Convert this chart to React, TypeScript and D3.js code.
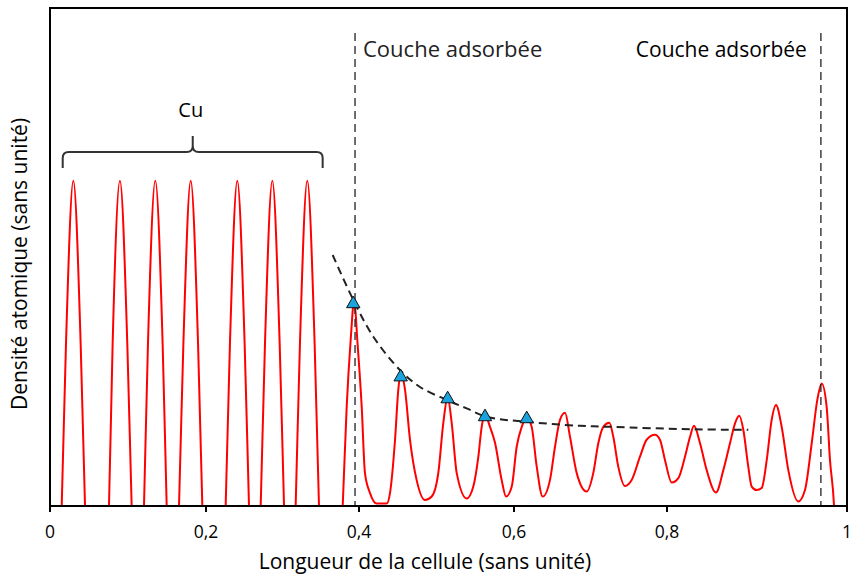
import React from "react";
import * as d3 from "d3";

// ---------- data ----------
const xTicks = [0, 0.2, 0.4, 0.6, 0.8, 1];
const xTickLabels = ["0", "0,2", "0,4", "0,6", "0,8", "1"];

// Red density profile (x, y) (y in arbitrary units, 0-100)
const densityX = [
  0.005, 0.015, 0.0205, 0.0299, 0.0393, 0.0449,
  0.0603, 0.0756, 0.0803, 0.0897, 0.0991, 0.1047,
  0.1126, 0.1205, 0.1256, 0.135, 0.1444, 0.1496,
  0.1575, 0.1654, 0.171, 0.1804, 0.1898, 0.1953,
  0.2105, 0.2257, 0.2313, 0.2409, 0.2505, 0.2562,
  0.2638, 0.2715, 0.2771, 0.2867, 0.2963, 0.302,
  0.3096, 0.3172, 0.3228, 0.3324, 0.342, 0.3477,
  0.3634, 0.3787, 0.3839, 0.3891, 0.3938, 0.3978, 0.4035, 0.4077, 0.4142, 0.4228,
  0.4357, 0.44, 0.4465, 0.4507, 0.4542, 0.4594, 0.4658, 0.4744, 0.4852,
  0.4938, 0.5023, 0.5088, 0.5144, 0.5196, 0.5261, 0.539,
  0.5475, 0.554, 0.5583, 0.5626, 0.569, 0.5755, 0.5841, 0.5897,
  0.5971, 0.6035, 0.6101, 0.6166, 0.6231, 0.6297, 0.6375,
  0.647, 0.6536, 0.6601, 0.6667, 0.6732, 0.682, 0.695,
  0.7036, 0.7102, 0.7167, 0.7246, 0.7298, 0.7363, 0.7451,
  0.7538, 0.7647, 0.7734, 0.7843, 0.7908, 0.7974, 0.8052,
  0.8126, 0.82, 0.8256, 0.83, 0.8367, 0.8441, 0.8544,
  0.8626, 0.87, 0.8756, 0.8803, 0.8848, 0.8903, 0.8941, 0.8997,
  0.9052, 0.9108, 0.9163, 0.9211, 0.9274, 0.9348, 0.9459,
  0.9533, 0.9608, 0.967, 0.9719, 0.9774, 0.9811, 0.9856, 0.9922,
];
const densityY = [
  -40, 0, 32.6, 65.3, 32.6, 0,
  -40, 0, 32.6, 65.3, 32.6, 0,
  -40, 0, 32.6, 65.3, 32.6, 0,
  -40, 0, 32.6, 65.3, 32.6, 0,
  -40, 0, 32.6, 65.3, 32.6, 0,
  -40, 0, 32.6, 65.3, 32.6, 0,
  -40, 0, 32.6, 65.3, 32.6, 0,
  -40, 0, 19.9, 33.3, 41.4, 33.3, 19.9, 6.6, 2.6, 0.5,
  0.5, 2.6, 13.3, 23.3, 26.7, 23.3, 13.3, 5.2, 1.2,
  1.9, 6.6, 16.7, 21.9, 16.7, 6.6, 1.5,
  3.9, 9.9, 15.9, 18.3, 15.9, 12.7, 5.2, 1.9,
  3.9, 11.9, 15.9, 17.7, 15.9, 7.9, 1.9,
  5.2, 11.9, 17.3, 18.7, 13.9, 6.6, 2.9,
  6.6, 12.6, 15.9, 16.7, 13.9, 7.9, 4.0,
  5.2, 9.9, 13.3, 14.3, 13.3, 9.2, 4.7,
  5.6, 9.9, 13.9, 16.1, 12.6, 7.2, 2.7,
  7.2, 12.6, 16.6, 18.1, 15.3, 7.9, 3.9, 3.2,
  3.6, 9.2, 17.3, 20.3, 15.9, 7.2, 0.9,
  3.2, 12.6, 21.3, 24.6, 19.9, 9.2, 0, -40,
];

// Adsorbed-layer peak maxima (triangles)
const markerX = [0.3925, 0.4538, 0.5144, 0.5626, 0.6166];
const markerY = [40.8, 26.1, 21.7, 18.1, 17.7];

// Decay trend (dashed black curve)
const trendX = [0.3656, 0.3925, 0.4185, 0.4529, 0.4787, 0.5132, 0.539, 0.5648, 0.6166, 0.6863, 0.7255, 0.8292, 0.8903];
const trendY = [50.4, 41.4, 34.0, 27.3, 23.9, 21.3, 19.6, 17.9, 16.9, 16.1, 15.9, 15.4, 15.3];

// Adsorbed-layer markers (vertical dashed lines)
const layerX = [0.3948, 0.971];
const layerLabels = ["Couche adsorbée", "Couche adsorbée"];

// Cu bracket (x start, tip, end)
const cuBracketX = [0.0163, 0.183, 0.3525];
const cuLabel = "Cu";

const xTitle = "Longueur de la cellule (sans unité)";
const yTitle = "Densité atomique (sans unité)";

// ---------- layout ----------
const W = 854;
const H = 577;
const left = 50;
const right = 847;
const top = 8;
const bottom = 506;
const FONT = "'Open Sans', 'DejaVu Sans', sans-serif";

export default function App() {
  const x = d3
    .scaleLinear()
    .domain(xTicks)
    .range([left, 206, 359, 514, 667, right]);
  const y = d3.scaleLinear().domain([0, 100]).range([bottom, top]);

  const densPts: [number, number][] = densityX.map((v, i) => [v, densityY[i]]);
  const trendPts: [number, number][] = trendX.map((v, i) => [v, trendY[i]]);

  const line = d3
    .line<[number, number]>()
    .x((d) => x(d[0]))
    .y((d) => y(d[1]))
    .curve(d3.curveMonotoneX);

  const trendLine = d3
    .line<[number, number]>()
    .x((d) => x(d[0]))
    .y((d) => y(d[1]))
    .curve(d3.curveCatmullRom.alpha(0.5));

  const tri = d3.symbol(d3.symbolTriangle, 78)();

  // bracket geometry
  const bx0 = x(cuBracketX[0]);
  const bt = x(cuBracketX[1]);
  const bx1 = x(cuBracketX[2]);
  const by = 152;
  const byEnd = 168;
  const byTip = 136;
  const r = 6;
  const bracket = [
    `M${bx0},${byEnd}`,
    `L${bx0},${by + r}`,
    `Q${bx0},${by} ${bx0 + r},${by}`,
    `L${bt - r},${by}`,
    `Q${bt},${by} ${bt},${by - r}`,
    `L${bt},${byTip}`,
    `M${bt},${by - r}`,
    `Q${bt},${by} ${bt + r},${by}`,
    `L${bx1 - r},${by}`,
    `Q${bx1},${by} ${bx1},${by + r}`,
    `L${bx1},${byEnd}`,
  ].join(" ");

  return (
    <svg
      width={W}
      height={H}
      style={{ position: "absolute", left: 0, top: 0, background: "#fff" }}
      fontFamily={FONT}
    >
      <defs>
        <clipPath id="plot-clip">
          <rect x={left} y={top} width={right - left} height={bottom - top} />
        </clipPath>
      </defs>

      {/* density curve */}
      <path
        d={line(densPts) || ""}
        fill="none"
        stroke="#ff0000"
        strokeWidth={2}
        clipPath="url(#plot-clip)"
      />

      {/* vertical dashed layer lines */}
      {layerX.map((v, i) => (
        <line
          key={i}
          x1={x(v)}
          x2={x(v)}
          y1={33}
          y2={bottom}
          stroke="#222"
          strokeWidth={1.3}
          strokeDasharray="8 5"
        />
      ))}

      {/* trend dashed curve */}
      <path
        d={trendLine(trendPts) || ""}
        fill="none"
        stroke="#222"
        strokeWidth={2}
        strokeDasharray="8 5"
      />

      {/* triangle markers */}
      {markerX.map((v, i) => (
        <path
          key={i}
          d={tri || ""}
          transform={`translate(${x(v)},${y(markerY[i]) + 1})`}
          fill="#1aa3dd"
          stroke="#111"
          strokeWidth={1}
        />
      ))}

      {/* frame */}
      <rect
        x={left}
        y={top}
        width={right - left}
        height={bottom - top}
        fill="none"
        stroke="#000"
        strokeWidth={2}
      />

      {/* x ticks */}
      {xTicks.map((t, i) => (
        <g key={i} transform={`translate(${x(t)},0)`}>
          <line y1={bottom} y2={bottom + 6} stroke="#000" strokeWidth={2} />
          <text
            y={538}
            textAnchor="middle"
            fontSize={17.5}
            fill="#000"
          >
            {xTickLabels[i]}
          </text>
        </g>
      ))}

      {/* Cu bracket */}
      <path d={bracket} fill="none" stroke="#333" strokeWidth={2} />
      <text x={bt - 2} y={117} textAnchor="middle" fontSize={20} fill="#000">
        {cuLabel}
      </text>

      {/* layer labels */}
      <text x={x(layerX[0]) + 8} y={57} fontSize={22} fill="#222">
        {layerLabels[0]}
      </text>
      <text x={x(layerX[1]) - 14} y={57} fontSize={21} fill="#000" textAnchor="end">
        {layerLabels[1]}
      </text>

      {/* axis titles */}
      <text x={425} y={569} textAnchor="middle" fontSize={21} fill="#000">
        {xTitle}
      </text>
      <text
        transform={`translate(27,264) rotate(-90)`}
        textAnchor="middle"
        fontSize={21}
        fill="#000"
      >
        {yTitle}
      </text>
    </svg>
  );
}
